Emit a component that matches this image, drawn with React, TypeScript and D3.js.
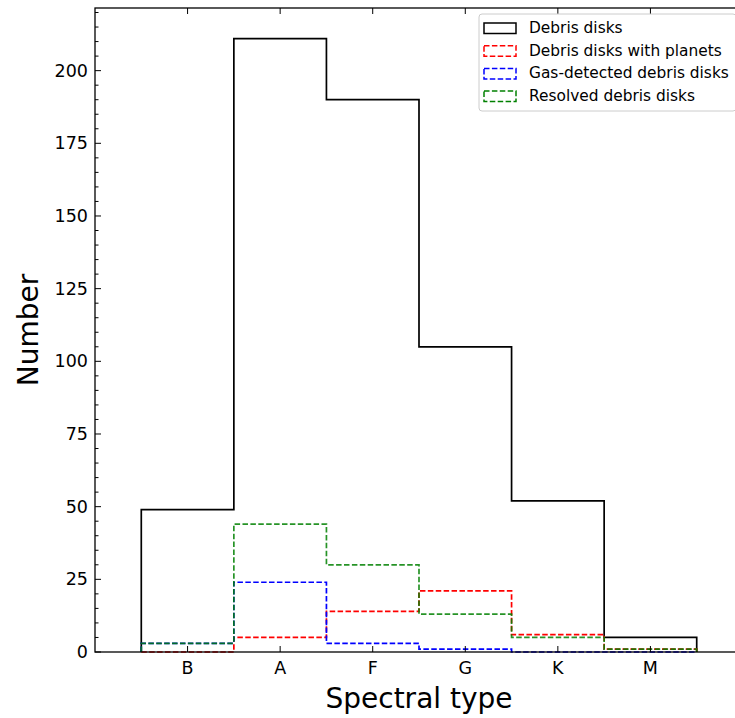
import React from "react";
import * as d3 from "d3";

// spectral type histogram counts
const categories = ["B", "A", "F", "G", "K", "M"];
const debrisDisks = [49, 211, 190, 105, 52, 5];
const withPlanets = [0, 5, 14, 21, 6, 1];
const gasDetected = [3, 24, 3, 1, 0, 0];
const resolved = [3, 44, 30, 13, 5, 1];
const yTicks = [0, 25, 50, 75, 100, 125, 150, 175, 200];

const series = [
  { name: "Debris disks", values: debrisDisks, color: "#000000", dash: null },
  { name: "Debris disks with planets", values: withPlanets, color: "#ff0000", dash: "5.5,2.4" },
  { name: "Gas-detected debris disks", values: gasDetected, color: "#0000ff", dash: "5.5,2.4" },
  { name: "Resolved debris disks", values: resolved, color: "#008000", dash: "5.5,2.4" },
];

const W = 735;
const H = 718;
const margin = { top: 8, right: -8, bottom: 66, left: 95 };
const font = "DejaVu Sans, sans-serif";

export default function App() {
  const x = d3
    .scaleLinear()
    .domain([-1, 6])
    .range([margin.left, W - margin.right]);
  const y = d3
    .scaleLinear()
    .domain([0, 211 * 1.05])
    .range([H - margin.bottom, margin.top]);

  const stepPath = (vals: number[]) => {
    const pts: [number, number][] = [[-0.5, 0]];
    vals.forEach((v, i) => {
      pts.push([i - 0.5, v]);
      pts.push([i + 0.5, v]);
    });
    pts.push([vals.length - 0.5, 0]);
    return d3.line<[number, number]>()
      .x((d) => x(d[0]))
      .y((d) => y(d[1]))(pts);
  };

  const minor = d3.range(0, 225, 5).filter((v) => v % 25 !== 0);
  const x0 = x(-1);
  const x1 = x(6);
  const y0 = y(0);
  const y1 = y(211 * 1.05);

  return (
    <div style={{ position: "absolute", left: 0, top: 0 }}>
      <svg width={W} height={H} style={{ display: "block", background: "#fff" }}>
        {/* bars */}
        <g fill="none" strokeWidth={1.7}>
          {series.map((s, i) => (
            <path
              key={s.name}
              d={stepPath(s.values) || ""}
              stroke={s.color}
              strokeDasharray={s.dash || undefined}
              strokeOpacity={i === 3 ? 0.85 : 1}
            />
          ))}
        </g>

        {/* ticks */}
        <g stroke="#000" strokeWidth={1}>
          {yTicks.map((t) => (
            <g key={t}>
              <line x1={x0} x2={x0 + 6} y1={y(t)} y2={y(t)} />
              <line x1={x1} x2={x1 - 6} y1={y(t)} y2={y(t)} />
            </g>
          ))}
          {minor.map((t) => (
            <g key={"m" + t}>
              <line x1={x0} x2={x0 + 3.5} y1={y(t)} y2={y(t)} />
              <line x1={x1} x2={x1 - 3.5} y1={y(t)} y2={y(t)} />
            </g>
          ))}
          {categories.map((c, i) => (
            <g key={c}>
              <line x1={x(i)} x2={x(i)} y1={y0} y2={y0 - 6} />
              <line x1={x(i)} x2={x(i)} y1={y1} y2={y1 + 6} />
            </g>
          ))}
        </g>

        {/* spines */}
        <rect
          x={x0}
          y={y1}
          width={x1 - x0}
          height={y0 - y1}
          fill="none"
          stroke="#000"
          strokeWidth={1.3}
        />

        {/* tick labels */}
        <g fontFamily={font} fontSize={17.5} fill="#000">
          {yTicks.map((t) => (
            <text key={t} x={x0 - 7} y={y(t)} textAnchor="end" dominantBaseline="central">
              {t}
            </text>
          ))}
          {categories.map((c, i) => (
            <text key={c} x={x(i)} y={y0 + 16} textAnchor="middle" dominantBaseline="central">
              {c}
            </text>
          ))}
        </g>

        {/* axis labels */}
        <text
          x={(x0 + 735) / 2 + 4}
          y={708}
          textAnchor="middle"
          fontFamily={font}
          fontSize={28}
        >
          Spectral type
        </text>
        <text
          transform={`translate(38, ${(y0 + y1) / 2}) rotate(-90)`}
          textAnchor="middle"
          fontFamily={font}
          fontSize={28}
        >
          Number
        </text>

        {/* legend */}
        <g transform="translate(479, 14)">
          <rect
            x={0}
            y={0}
            width={257}
            height={97}
            rx={3}
            fill="#fff"
            fillOpacity={0.8}
            stroke="#cccccc"
          />
          {series.map((s, i) => (
            <g key={s.name} transform={`translate(0, ${14 + i * 22.7})`}>
              <rect
                x={5}
                y={-5}
                width={32}
                height={10.5}
                fill="none"
                stroke={s.color}
                strokeWidth={1.5}
                strokeDasharray={s.dash || undefined}
              />
              <text
                x={50}
                y={0}
                dominantBaseline="central"
                fontFamily={font}
                fontSize={15.4}
              >
                {s.name}
              </text>
            </g>
          ))}
        </g>
      </svg>
    </div>
  );
}
